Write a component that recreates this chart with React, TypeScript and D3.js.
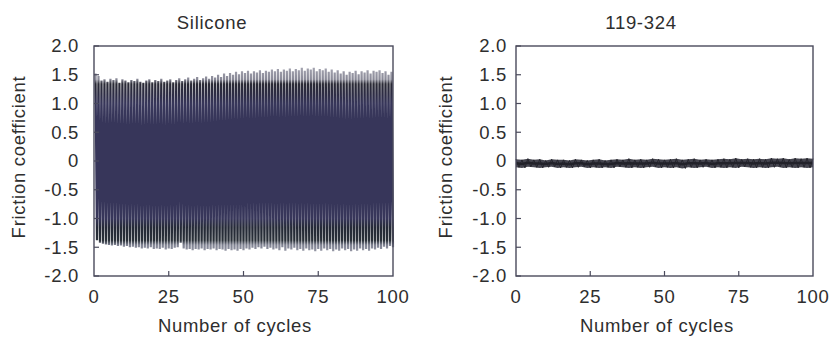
import React, { useEffect, useRef } from 'react';
import * as d3 from 'd3';

// Per-cycle stroke peaks (forward stroke / return stroke)
const siliconeForward = [
  1.52, 1.48, 1.40, 1.42, 1.38, 1.43, 1.41, 1.44, 1.36, 1.42,
  1.40, 1.37, 1.41, 1.39, 1.43, 1.38, 1.36, 1.40, 1.42, 1.37,
  1.41, 1.39, 1.43, 1.38, 1.40, 1.42, 1.37, 1.41, 1.44, 1.39,
  1.42, 1.45, 1.40, 1.43, 1.46, 1.41, 1.44, 1.47, 1.43, 1.48,
  1.45, 1.50, 1.46, 1.52, 1.48, 1.53, 1.50, 1.55, 1.51, 1.56,
  1.53, 1.57, 1.52, 1.56, 1.54, 1.58, 1.53, 1.57, 1.55, 1.59,
  1.56, 1.60, 1.55, 1.59, 1.57, 1.61, 1.56, 1.60, 1.58, 1.62,
  1.57, 1.61, 1.59, 1.62, 1.56, 1.60, 1.58, 1.61, 1.55, 1.59,
  1.54, 1.58, 1.52, 1.56, 1.50, 1.55, 1.53, 1.57, 1.51, 1.56,
  1.54, 1.58, 1.52, 1.57, 1.55, 1.58, 1.53, 1.56, 1.50, 1.55,
];
const siliconeReturn = [
  -1.38, -1.42, -1.44, -1.45, -1.46, -1.47, -1.46, -1.48, -1.47, -1.49,
  -1.48, -1.50, -1.49, -1.51, -1.50, -1.52, -1.51, -1.52, -1.50, -1.53,
  -1.52, -1.53, -1.51, -1.54, -1.52, -1.53, -1.51, -1.50, -1.42, -1.52,
  -1.54, -1.53, -1.55, -1.53, -1.54, -1.52, -1.55, -1.53, -1.54, -1.52,
  -1.55, -1.53, -1.54, -1.56, -1.53, -1.55, -1.54, -1.56, -1.53, -1.55,
  -1.52, -1.54, -1.51, -1.53, -1.50, -1.52, -1.49, -1.53, -1.51, -1.54,
  -1.52, -1.55, -1.50, -1.56, -1.52, -1.54, -1.51, -1.55, -1.53, -1.56,
  -1.52, -1.55, -1.54, -1.57, -1.53, -1.56, -1.52, -1.55, -1.53, -1.57,
  -1.54, -1.56, -1.52, -1.55, -1.53, -1.57, -1.54, -1.56, -1.52, -1.55,
  -1.53, -1.56, -1.52, -1.54, -1.51, -1.53, -1.49, -1.52, -1.48, -1.50,
];

// 119-324 noise band, sampled every 2 cycles (upper / lower edge)
const coatedCycles = d3.range(0, 101, 2);
const coatedUpper = [
  0.03, 0.02, 0.04, 0.02, 0.03, 0.01, 0.03, 0.02, 0.02, 0.01,
  0.03, 0.02, 0.01, 0.02, 0.03, 0.01, 0.02, 0.03, 0.02, 0.04,
  0.02, 0.03, 0.02, 0.04, 0.03, 0.02, 0.03, 0.04, 0.02, 0.03,
  0.04, 0.02, 0.03, 0.02, 0.03, 0.04, 0.03, 0.05, 0.03, 0.04,
  0.03, 0.04, 0.03, 0.05, 0.04, 0.05, 0.03, 0.05, 0.04, 0.05, 0.04,
];
const coatedLower = [
  -0.11, -0.12, -0.10, -0.11, -0.12, -0.11, -0.10, -0.12, -0.11, -0.12,
  -0.11, -0.10, -0.12, -0.11, -0.12, -0.11, -0.12, -0.10, -0.11, -0.12,
  -0.11, -0.12, -0.11, -0.10, -0.12, -0.11, -0.12, -0.11, -0.13, -0.11,
  -0.12, -0.11, -0.10, -0.12, -0.11, -0.12, -0.11, -0.12, -0.10, -0.11,
  -0.12, -0.11, -0.12, -0.11, -0.10, -0.12, -0.11, -0.12, -0.11, -0.12, -0.11,
];

const titles = ['Silicone', '119-324'];
const yTicks = [2, 1.5, 1, 0.5, 0, -0.5, -1, -1.5, -2];
const xTicks = [0, 25, 50, 75, 100];

const W = 829;
const H = 337;
const fontFamily = '"Liberation Sans", Arial, Helvetica, sans-serif';
const textColor = '#2e2e2e';

// layout of the two panels (plot area edges, title/label centres)
const panels = [
  { left: 94, right: 393, titleX: 212, labelX: 235, yLabelX: 19, tickEnd: 79 },
  { left: 516, right: 813, titleX: 641, labelX: 657, yLabelX: 446, tickEnd: 507 },
];
const top = 46;
const bottom = 276;

// hyphen minus like the original, plain "0" at zero
const fmtY = (v: number) => (v === 0 ? '0' : v.toFixed(1));

const App = () => {
  const ref = useRef<SVGSVGElement>(null);

  useEffect(() => {
    const svg = d3.select(ref.current);
    svg.selectAll('*').remove();

    const defs = svg.append('defs');

    const yScale = d3.scaleLinear().domain([-2, 2]).range([bottom, top]);

    // gradient gives the grey tips / dark plateau look of the dense trace
    const grad = defs.append('linearGradient')
      .attr('id', 'trace-grad')
      .attr('gradientUnits', 'userSpaceOnUse')
      .attr('x1', 0).attr('x2', 0)
      .attr('y1', yScale(2)).attr('y2', yScale(-2));
    const stops: [number, string][] = [
      [1.65, '#a6a6b2'],
      [1.42, '#8a8a98'],
      [1.34, '#292934'],
      [1.16, '#2d2c44'],
      [1.0, '#37365a'],
      [-1.0, '#37365a'],
      [-1.16, '#242936'],
      [-1.38, '#293038'],
      [-1.46, '#7e8191'],
      [-1.65, '#a2a4b0'],
    ];
    stops.forEach(([v, c]) => {
      grad.append('stop').attr('offset', (2 - v) / 4).attr('stop-color', c);
    });

    panels.forEach((p, pi) => {
      const xScale = d3.scaleLinear().domain([0, 100]).range([p.left, p.right]);
      const g = svg.append('g');

      // data
      if (pi === 0) {
        const pts: [number, number][] = [];
        siliconeForward.forEach((v, i) => {
          pts.push([i + 0.5, v]);
          pts.push([i + 1, siliconeReturn[i]]);
        });
        const line = d3.line<[number, number]>()
          .x(d => xScale(d[0]))
          .y(d => yScale(d[1]));
        g.append('path')
          .datum(pts)
          .attr('d', line)
          .attr('fill', 'none')
          .attr('stroke', 'url(#trace-grad)')
          .attr('stroke-width', 2.2);
      } else {
        const band = coatedCycles.map((c, i) => ({ c, hi: coatedUpper[i], lo: coatedLower[i] }));
        const area = d3.area<{ c: number; hi: number; lo: number }>()
          .x(d => xScale(d.c))
          .y0(d => yScale(d.lo))
          .y1(d => yScale(d.hi));
        g.append('path')
          .datum(band)
          .attr('d', area)
          .attr('fill', '#45454f');
        const zig: [number, number][] = [];
        band.forEach((d, i) => {
          zig.push([d.c, d.hi]);
          if (i < band.length - 1) zig.push([d.c + 1, d.lo]);
        });
        g.append('path')
          .datum(zig)
          .attr('d', d3.line<[number, number]>().x(d => xScale(d[0])).y(d => yScale(d[1])))
          .attr('fill', 'none')
          .attr('stroke', '#26262e')
          .attr('stroke-width', 1);
        g.append('path')
          .datum(band)
          .attr('d', d3.line<{ c: number; hi: number; lo: number }>().x(d => xScale(d.c)).y(d => yScale((d.hi + d.lo) / 2)))
          .attr('fill', 'none')
          .attr('stroke', '#22222a')
          .attr('stroke-width', 2.5);
      }

      // frame
      g.append('rect')
        .attr('x', p.left).attr('y', top)
        .attr('width', p.right - p.left).attr('height', bottom - top)
        .attr('fill', 'none')
        .attr('stroke', '#4a4a5c')
        .attr('stroke-width', 1.4);

      // inward ticks
      g.selectAll('.yt').data(yTicks).enter().append('line')
        .attr('x1', p.left).attr('x2', p.left + 5)
        .attr('y1', d => yScale(d)).attr('y2', d => yScale(d))
        .attr('stroke', '#4a4a5c').attr('stroke-width', 1.2);
      g.selectAll('.xt').data(xTicks.slice(1, -1)).enter().append('line')
        .attr('x1', d => xScale(d)).attr('x2', d => xScale(d))
        .attr('y1', bottom).attr('y2', bottom - 5)
        .attr('stroke', '#4a4a5c').attr('stroke-width', 1.2);

      const textStyle = (sel: any) => sel
        .attr('font-family', fontFamily)
        .attr('font-size', 18.5)
        .attr('letter-spacing', 0.7)
        .attr('fill', textColor);

      g.selectAll('.yl').data(yTicks).enter().append('text')
        .call(textStyle)
        .attr('x', p.tickEnd).attr('y', d => yScale(d))
        .attr('dy', '0.35em')
        .attr('text-anchor', 'end')
        .text(d => fmtY(d));

      g.selectAll('.xl').data(xTicks).enter().append('text')
        .call(textStyle)
        .attr('x', d => xScale(d)).attr('y', 297)
        .attr('dy', '0.35em')
        .attr('text-anchor', 'middle')
        .text(d => String(d));

      g.append('text').call(textStyle)
        .attr('x', p.titleX).attr('y', 23).attr('dy', '0.35em')
        .attr('text-anchor', 'middle')
        .text(titles[pi]);

      g.append('text').call(textStyle)
        .attr('x', p.labelX).attr('y', 326).attr('dy', '0.35em')
        .attr('text-anchor', 'middle')
        .text('Number of cycles');

      g.append('text').call(textStyle)
        .attr('transform', `translate(${p.yLabelX}, 157) rotate(-90)`)
        .attr('dy', '0.35em')
        .attr('text-anchor', 'middle')
        .text('Friction coefficient');
    });
  }, []);

  return (
    <svg
      ref={ref}
      width={W}
      height={H}
      style={{ position: 'absolute', left: 0, top: 0, background: '#fff' }}
    />
  );
};

export default App;
